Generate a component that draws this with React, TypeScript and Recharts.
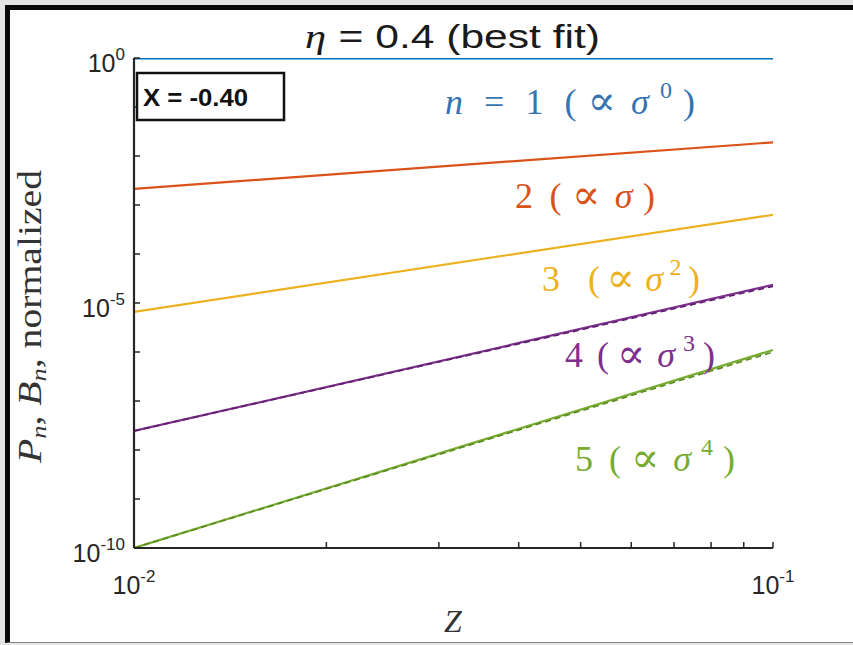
import React from 'react';
import { LineChart, Line, XAxis, YAxis } from 'recharts';

// Normalized moments P_n (solid) and B_n (dashed) versus Z, log-log axes.
const zRange = [0.01, 0.1];
const p1 = [1, 1];
const p2 = [0.00214, 0.019];
const p3 = [6.6e-6, 6.3e-4];
const p4 = [2.45e-8, 2.34e-5];
const p5 = [1e-10, 1.1e-6];
const b4 = [2.45e-8, 2.19e-5];
const b5 = [1e-10, 1.0e-6];

const zTicks = [0.01, 0.02, 0.03, 0.04, 0.05, 0.06, 0.07, 0.08, 0.09, 0.1];
const zMajor = [0.01, 0.1];
const zMajorExp = ['-2', '-1'];
const yTicks = [1e-10, 1e-9, 1e-8, 1e-7, 1e-6, 1e-5, 1e-4, 1e-3, 1e-2, 1e-1, 1];
const yMajor = [1, 1e-5, 1e-10];
const yMajorExp = ['0', '-5', '-10'];

const COLORS = ['#0072BD', '#D95319', '#EDB120', '#7E2F8E', '#77AC30'];
const AXIS = '#262626';
const SANS = '"Liberation Sans", Arial, Helvetica, sans-serif';
const SERIF = '"Liberation Serif", "Times New Roman", serif';
const SYMBOL = '"DejaVu Serif", serif';

const data = zRange.map((z, i) => ({
  z,
  p1: p1[i],
  p2: p2[i],
  p3: p3[i],
  p4: p4[i],
  p5: p5[i],
  b4: b4[i],
  b5: b5[i],
}));

const near = (a: number, b: number) => Math.abs(Math.log10(a) - Math.log10(b)) < 1e-6;

const XTick = (props: any) => {
  const { x, y, payload } = props;
  const idx = zMajor.findIndex((v) => near(v, payload.value));
  if (idx < 0) return <g />;
  return (
    <text x={x} y={y + 46} textAnchor="middle" fontFamily={SANS} fontSize={25} fill={AXIS}>
      <tspan>10</tspan>
      <tspan dy={-12} fontSize={17}>{zMajorExp[idx]}</tspan>
    </text>
  );
};

const YTick = (props: any) => {
  const { x, y, payload } = props;
  const idx = yMajor.findIndex((v) => near(v, payload.value));
  if (idx < 0) return <g />;
  return (
    <text x={x - 9} y={y + 14} textAnchor="end" fontFamily={SANS} fontSize={25} fill={AXIS}>
      <tspan>10</tspan>
      <tspan dy={-12} fontSize={17}>{yMajorExp[idx]}</tspan>
    </text>
  );
};

const Blank = () => <g />;

const SIZE = 36;
const SUP = 24;
const PROP = 42;

// "lead (∝ σ^exp)" in math-style serif
const Scaling = ({ x, y, color, width, lead, exp }: any) => (
  <text x={x} y={y} fontFamily={SERIF} fontSize={SIZE} fill={color} textLength={width} lengthAdjust="spacing">
    {lead}
    <tspan dx={6}>(</tspan>
    <tspan fontFamily={SYMBOL} fontSize={PROP} dy={1}>∝</tspan>
    <tspan dx={4} dy={-1} fontStyle="italic">σ</tspan>
    {exp ? (
      <>
        <tspan dy={-16} fontSize={SUP}>{exp}</tspan>
        <tspan dy={16}>)</tspan>
      </>
    ) : (
      <tspan>)</tspan>
    )}
  </text>
);

const Annotations = () => (
  <svg
    width={853}
    height={645}
    style={{ position: 'absolute', left: 0, top: 0, pointerEvents: 'none' }}
  >
    {/* title */}
    <text x={305} y={48} fontSize={34} fill="#1a1a1a" textLength={295} lengthAdjust="spacingAndGlyphs">
      <tspan fontFamily={SERIF} fontStyle="italic">η</tspan>
      <tspan fontFamily={SANS} dx={10}>= 0.4 (best fit)</tspan>
    </text>

    {/* axis titles */}
    <text x={453} y={632} textAnchor="middle" fontFamily={SERIF} fontStyle="italic" fontSize={32} fill="#333">
      Z
    </text>
    <text
      transform="translate(41,463) rotate(-90)"
      fontFamily={SERIF}
      fontSize={33}
      fill="#333"
      textLength={293}
      lengthAdjust="spacingAndGlyphs"
    >
      <tspan fontStyle="italic">P</tspan>
      <tspan fontStyle="italic" fontSize={22} dy={5}>n</tspan>
      <tspan dy={-5}>, </tspan>
      <tspan fontStyle="italic">B</tspan>
      <tspan fontStyle="italic" fontSize={22} dy={5}>n</tspan>
      <tspan dy={-5}>, normalized</tspan>
    </text>

    {/* parameter box */}
    <rect x={137} y={73} width={147} height={47} fill="#fff" stroke="#111" strokeWidth={2.5} />
    <text x={143} y={106} fontFamily={SANS} fontWeight="bold" fontSize={23} fill="#111" textLength={105} lengthAdjust="spacingAndGlyphs">
      X = -0.40
    </text>

    {/* scaling labels */}
    <text x={445} y={114} fontFamily={SERIF} fontSize={SIZE} fill="#3574b0" textLength={250} lengthAdjust="spacing">
      <tspan fontStyle="italic">n</tspan>
      <tspan dx={10}>=</tspan>
      <tspan dx={10}>1</tspan>
      <tspan dx={10}>(</tspan>
      <tspan fontFamily={SYMBOL} fontSize={PROP} dy={1}>∝</tspan>
      <tspan dx={4} dy={-1} fontStyle="italic">σ</tspan>
      <tspan dy={-16} fontSize={SUP}>0</tspan>
      <tspan dy={16}>)</tspan>
    </text>
    <Scaling x={515} y={208} color={COLORS[1]} width={140} lead="2" />
    <Scaling x={542} y={291} color={COLORS[2]} width={158} lead="3 " exp="2" />
    <Scaling x={565} y={367} color={COLORS[3]} width={150} lead="4" exp="3" />
    <Scaling x={575} y={471} color={COLORS[4]} width={160} lead="5" exp="4" />
  </svg>
);

export default function App() {
  return (
    <div style={{ position: 'absolute', left: 0, top: 0, width: 853, height: 645, background: '#e4e4e4', overflow: 'hidden' }}>
      <div
        style={{
          position: 'absolute',
          left: 5,
          top: 5,
          width: 843,
          height: 632,
          background: '#fff',
          borderLeft: '5px solid #0a0a0a',
          borderTop: '5px solid #0a0a0a',
          borderBottom: '1px solid #888',
        }}
      />
      <div style={{ position: 'absolute', left: 0, top: 0 }}>
        <LineChart width={853} height={645} data={data} margin={{ top: 58, right: 80, left: 74, bottom: 57 }}>
          <XAxis
            xAxisId="bottom"
            dataKey="z"
            type="number"
            scale="log"
            domain={[0.01, 0.1]}
            allowDataOverflow
            ticks={zTicks}
            interval={0}
            height={40}
            tickSize={-6}
            tickMargin={6}
            tick={<XTick />}
            axisLine={{ stroke: AXIS, strokeWidth: 2.2 }}
            tickLine={{ stroke: AXIS, strokeWidth: 1.5 }}
          />
          <XAxis
            xAxisId="top"
            orientation="top"
            dataKey="z"
            type="number"
            scale="log"
            domain={[0.01, 0.1]}
            allowDataOverflow
            ticks={zTicks}
            interval={0}
            height={0}
            tickSize={-6}
            tick={<Blank />}
            axisLine={{ stroke: AXIS, strokeWidth: 2.2 }}
            tickLine={{ stroke: AXIS, strokeWidth: 1.5 }}
          />
          <YAxis
            yAxisId="left"
            type="number"
            scale="log"
            domain={[1e-10, 1]}
            allowDataOverflow
            ticks={yTicks}
            interval={0}
            width={60}
            tickSize={-6}
            tickMargin={6}
            tick={<YTick />}
            axisLine={{ stroke: AXIS, strokeWidth: 2.2 }}
            tickLine={{ stroke: AXIS, strokeWidth: 1.5 }}
          />
          <YAxis
            yAxisId="right"
            orientation="right"
            type="number"
            scale="log"
            domain={[1e-10, 1]}
            allowDataOverflow
            ticks={yTicks}
            interval={0}
            width={0}
            tickSize={-6}
            tick={<Blank />}
            axisLine={{ stroke: AXIS, strokeWidth: 2.2 }}
            tickLine={{ stroke: AXIS, strokeWidth: 1.5 }}
          />
          <Line xAxisId="bottom" yAxisId="left" dataKey="p2" stroke={COLORS[1]} strokeWidth={2.2} dot={false} isAnimationActive={false} />
          <Line xAxisId="bottom" yAxisId="left" dataKey="p3" stroke={COLORS[2]} strokeWidth={2.2} dot={false} isAnimationActive={false} />
          <Line xAxisId="bottom" yAxisId="left" dataKey="p4" stroke={COLORS[3]} strokeWidth={2.2} dot={false} isAnimationActive={false} />
          <Line xAxisId="bottom" yAxisId="left" dataKey="p5" stroke={COLORS[4]} strokeWidth={2.2} dot={false} isAnimationActive={false} />
          <Line xAxisId="bottom" yAxisId="left" dataKey="b4" stroke="#5e1f6e" strokeWidth={1.6} strokeDasharray="6 4" dot={false} isAnimationActive={false} />
          <Line xAxisId="bottom" yAxisId="left" dataKey="b5" stroke="#5a8a20" strokeWidth={1.6} strokeDasharray="6 4" dot={false} isAnimationActive={false} />
          <Line xAxisId="bottom" yAxisId="left" dataKey="p1" stroke={COLORS[0]} strokeWidth={3} dot={false} isAnimationActive={false} />
        </LineChart>
      </div>
      <Annotations />
    </div>
  );
}
